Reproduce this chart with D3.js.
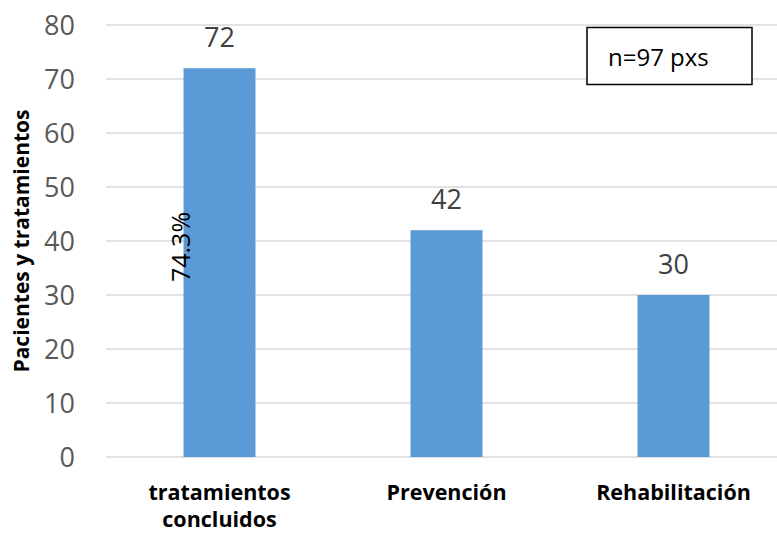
<!DOCTYPE html>
<html>
<head>
<meta charset="utf-8">
<script src="https://cdn.jsdelivr.net/npm/d3@7"></script>
<style>
  body { margin: 0; background: #fff; }
  svg text { font-family: "Open Sans", sans-serif; }
</style>
</head>
<body>
<svg id="chart"></svg>
<script>
const categories = ["tratamientos concluidos", "Prevención", "Rehabilitación"];
const values = [72, 42, 30];
const yTicks = [0, 10, 20, 30, 40, 50, 60, 70, 80];
const yTitle = "Pacientes y tratamientos";
const note = "n=97 pxs";
const pctLabel = "74.3%";

const width = 777;
const height = 534;
const margin = { top: 25, right: -10, bottom: 77, left: 106 };

const svg = d3.select("#chart")
  .attr("width", width)
  .attr("height", height);

const x = d3.scaleBand()
  .domain(categories)
  .range([margin.left, width - margin.right])
  .paddingInner(0.683)
  .paddingOuter(0.3415);

const y = d3.scaleLinear()
  .domain([0, 80])
  .range([height - margin.bottom, margin.top]);

// gridlines
svg.append("g")
  .selectAll("line")
  .data(yTicks)
  .enter()
  .append("line")
  .attr("x1", margin.left)
  .attr("x2", width)
  .attr("y1", d => y(d))
  .attr("y2", d => y(d))
  .attr("stroke", "#d9d9d9")
  .attr("stroke-width", 1.5);

// y axis labels
const yAxis = d3.axisLeft(y).tickValues(yTicks).tickSize(0).tickPadding(0);
const yg = svg.append("g")
  .attr("transform", `translate(${margin.left - 31}, 0)`)
  .call(yAxis);
yg.select(".domain").remove();
yg.selectAll("text")
  .attr("fill", "#595959")
  .attr("font-size", 27)
  .attr("dy", "0.35em")
  .attr("font-family", "'Open Sans', sans-serif");

// bars
svg.selectAll("rect.bar")
  .data(values)
  .enter()
  .append("rect")
  .attr("class", "bar")
  .attr("x", (d, i) => x(categories[i]))
  .attr("y", d => y(d))
  .attr("width", x.bandwidth())
  .attr("height", d => y(0) - y(d))
  .attr("fill", "#5b9bd5");

// value labels
svg.selectAll("text.val")
  .data(values)
  .enter()
  .append("text")
  .attr("class", "val")
  .attr("x", (d, i) => x(categories[i]) + x.bandwidth() / 2)
  .attr("y", d => y(d) - 21)
  .attr("text-anchor", "middle")
  .attr("font-size", 27)
  .attr("fill", "#404040")
  .text(d => d);

// x labels
categories.forEach(c => {
  const words = c === "tratamientos concluidos" ? ["tratamientos", "concluidos"] : [c];
  const t = svg.append("text")
    .attr("x", x(c) + x.bandwidth() / 2)
    .attr("y", 500)
    .attr("text-anchor", "middle")
    .attr("font-size", 21.5)
    .attr("font-weight", "bold")
    .attr("fill", "#000");
  words.forEach((w, i) => {
    t.append("tspan")
      .attr("x", x(c) + x.bandwidth() / 2)
      .attr("dy", i === 0 ? 0 : 27)
      .text(w);
  });
});

// y title
svg.append("text")
  .attr("transform", `translate(29, 241) rotate(-90)`)
  .attr("text-anchor", "middle")
  .attr("font-size", 21)
  .attr("font-weight", "bold")
  .attr("fill", "#000")
  .text(yTitle);

// percentage label
svg.append("text")
  .attr("transform", `translate(190, 247) rotate(-90)`)
  .attr("text-anchor", "middle")
  .attr("font-size", 25)
  .attr("fill", "#000")
  .text(pctLabel);

// note box
svg.append("rect")
  .attr("x", 587)
  .attr("y", 27.5)
  .attr("width", 165)
  .attr("height", 57)
  .attr("fill", "#fff")
  .attr("stroke", "#000")
  .attr("stroke-width", 1.5);
svg.append("text")
  .attr("x", 608)
  .attr("y", 66)
  .attr("font-size", 24)
  .attr("fill", "#000")
  .text(note);
</script>
</body>
</html>
